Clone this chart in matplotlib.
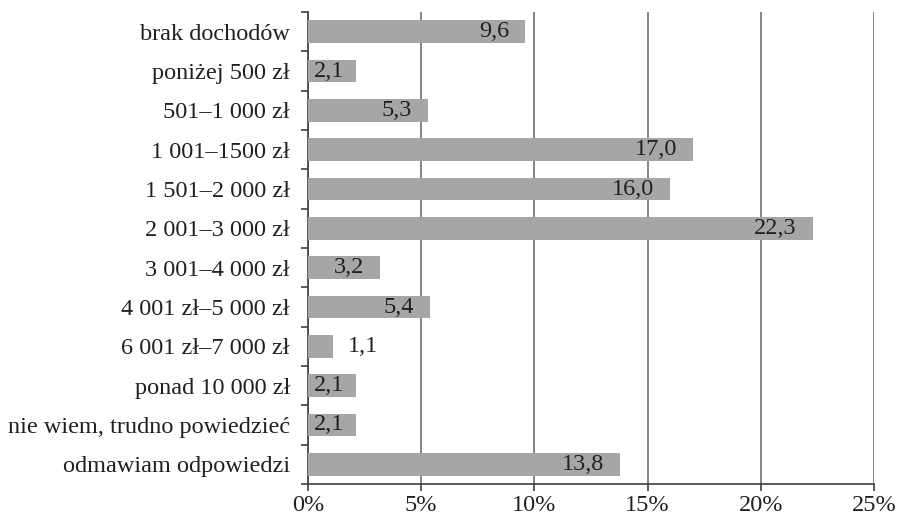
import numpy as np
import matplotlib
matplotlib.use('Agg')
import matplotlib.pyplot as plt

categories = ['brak dochodów', 'poniżej 500 zł', '501–1 000 zł', '1 001–1500 zł',
              '1 501–2 000 zł', '2 001–3 000 zł', '3 001–4 000 zł', '4 001 zł–5 000 zł',
              '6 001 zł–7 000 zł', 'ponad 10 000 zł', 'nie wiem, trudno powiedzieć',
              'odmawiam odpowiedzi']
values = [9.6, 2.1, 5.3, 17.0, 16.0, 22.3, 3.2, 5.4, 1.1, 2.1, 2.1, 13.8]
xticks = [0, 5, 10, 15, 20, 25]

plt.rcParams['font.family'] = ['Liberation Serif', 'DejaVu Serif']
plt.rcParams['font.size'] = 17.5

fig = plt.figure(figsize=(8.98, 5.18), dpi=100)
ax = fig.add_axes([308/898, 1-484/518, 566/898, 472/518])

y = np.arange(len(categories))
ax.barh(y, values, height=0.58, color='#a6a6a8', zorder=3)
ax.set_ylim(len(categories)-0.5, -0.5)
ax.set_xlim(0, 25)

for yi, v in zip(y, values):
	lab = ('%.1f' % v).replace('.', ',')
	if v < 1.5:
		ax.annotate(lab, (v, yi), xytext=(15, 0), textcoords='offset pixels',
			ha='left', va='center', color='#231f20', zorder=4)
	else:
		ax.annotate(lab, (v, yi), xytext=(-11 if v < 3 else -16, 0), textcoords='offset pixels',
			ha='right', va='center', color='#231f20', zorder=4)

ax.set_yticks(y)
ax.set_yticklabels(categories, color='#231f20')
ax.set_yticks(np.arange(-0.5, len(categories), 1), minor=True)
ax.tick_params(axis='y', which='major', length=0, pad=13)
ax.tick_params(axis='y', which='minor', length=5, width=1.2, color='#404040')

ax.set_xticks(xticks)
ax.set_xticklabels(['%d%%' % t for t in xticks], color='#231f20')
ax.tick_params(axis='x', length=5, width=1.2, color='#404040', pad=3)

ax.grid(axis='x', color='#707070', linewidth=1.2, zorder=1)
for s in ['top', 'right']:
	ax.spines[s].set_visible(False)
for s in ['left', 'bottom']:
	ax.spines[s].set_color('#404040')
	ax.spines[s].set_linewidth(1.2)

plt.savefig('out.png', dpi=100)
